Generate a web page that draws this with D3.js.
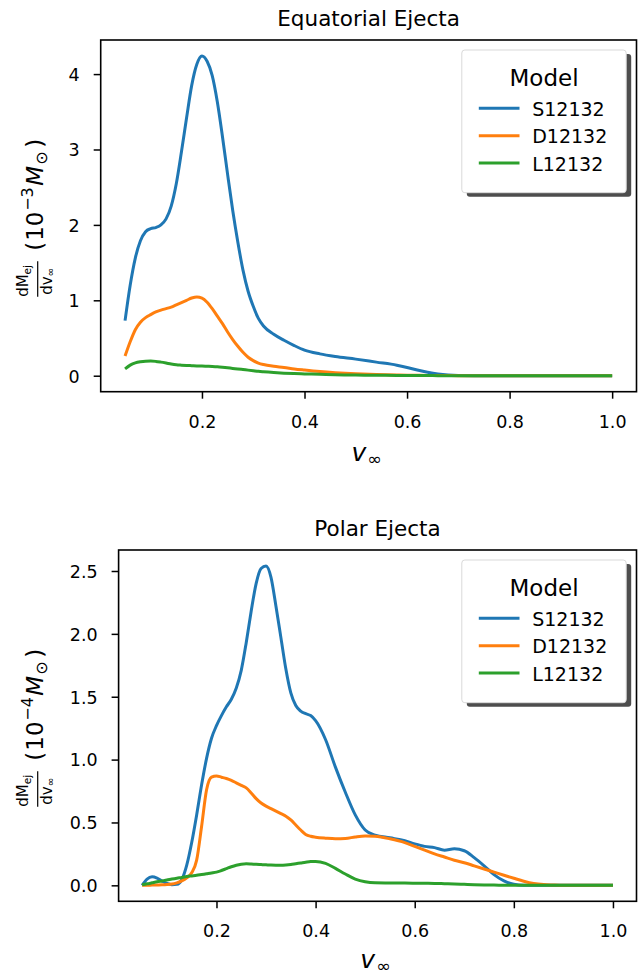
<!DOCTYPE html>
<html>
<head>
<meta charset="utf-8">
<script src="https://cdn.jsdelivr.net/npm/d3@7"></script>
<style>
  html, body { margin: 0; padding: 0; background: #fff; }
  svg { display: block; }
  text { font-family: "DejaVu Sans", sans-serif; fill: #000; }
</style>
</head>
<body>
<svg id="chart" width="644" height="975"></svg>
<script>
// ---------------- DATA ----------------
const seriesNames = ["S12132", "D12132", "L12132"];
const seriesColors = ["#1f77b4", "#ff7f0e", "#2ca02c"];

// Equatorial ejecta (units of 1e-3 Msun)
const equV = [0.05,0.06,0.07,0.08,0.09,0.10,0.11,0.12,0.13,0.14,0.15,0.16,0.17,0.18,0.19,0.20,0.21,0.22,0.23,0.24,0.25,0.26,0.27,0.28,0.29,0.30,0.31,0.32,0.34,0.36,0.38,0.40,0.43,0.46,0.50,0.54,0.58,0.60,0.62,0.64,0.66,0.68,0.70,0.75,0.80,0.90,1.00];
const equS = [0.73,1.20,1.56,1.79,1.91,1.95,1.965,2.00,2.08,2.25,2.55,2.97,3.42,3.85,4.13,4.24,4.17,3.98,3.63,3.17,2.67,2.19,1.77,1.40,1.12,0.92,0.76,0.66,0.55,0.47,0.40,0.34,0.29,0.255,0.22,0.18,0.14,0.11,0.075,0.045,0.022,0.008,0.002,0,0,0,0];
const equD = [0.26,0.45,0.61,0.71,0.77,0.81,0.845,0.87,0.89,0.91,0.94,0.97,1.00,1.03,1.045,1.03,0.975,0.89,0.79,0.69,0.58,0.48,0.39,0.31,0.245,0.20,0.168,0.148,0.125,0.11,0.09,0.075,0.055,0.04,0.025,0.015,0.009,0.007,0.005,0.004,0.003,0.002,0.001,0,0,0,0];
const equL = [0.09,0.14,0.17,0.185,0.193,0.195,0.19,0.18,0.168,0.155,0.145,0.14,0.136,0.133,0.13,0.128,0.125,0.122,0.118,0.112,0.105,0.097,0.09,0.082,0.074,0.066,0.058,0.052,0.042,0.034,0.028,0.024,0.018,0.013,0.009,0.006,0.004,0.003,0.002,0.002,0.001,0.001,0.001,0,0,0,0];

// Polar ejecta (units of 1e-4 Msun)
const polV = [0.05,0.06,0.07,0.08,0.09,0.10,0.11,0.12,0.13,0.14,0.15,0.16,0.17,0.18,0.19,0.20,0.21,0.22,0.23,0.24,0.25,0.26,0.27,0.28,0.29,0.30,0.31,0.32,0.33,0.34,0.35,0.36,0.37,0.38,0.39,0.40,0.42,0.44,0.46,0.48,0.50,0.52,0.55,0.58,0.60,0.62,0.64,0.66,0.68,0.70,0.72,0.74,0.76,0.78,0.80,0.82,0.84,0.86,0.88,0.90,0.95,1.00];
const polS = [0.0,0.05,0.068,0.058,0.035,0.015,0.005,0.008,0.045,0.16,0.34,0.56,0.80,1.01,1.17,1.27,1.35,1.42,1.48,1.57,1.71,1.93,2.18,2.40,2.52,2.54,2.45,2.22,1.97,1.72,1.53,1.43,1.385,1.365,1.35,1.31,1.16,0.94,0.74,0.56,0.44,0.40,0.378,0.355,0.33,0.31,0.30,0.28,0.29,0.275,0.22,0.155,0.085,0.035,0.008,0,0,0,0,0,0,0];
const polD = [0.0,0.0,0.002,0.003,0.004,0.006,0.01,0.02,0.035,0.06,0.10,0.20,0.47,0.76,0.86,0.87,0.86,0.85,0.835,0.815,0.795,0.775,0.735,0.69,0.655,0.63,0.61,0.59,0.57,0.55,0.52,0.48,0.44,0.405,0.39,0.383,0.375,0.37,0.372,0.385,0.393,0.39,0.37,0.34,0.31,0.28,0.25,0.225,0.20,0.18,0.155,0.13,0.105,0.08,0.056,0.033,0.015,0.006,0.003,0.001,0,0];
const polL = [0.005,0.012,0.02,0.028,0.035,0.042,0.05,0.057,0.063,0.07,0.075,0.08,0.086,0.092,0.098,0.105,0.118,0.133,0.148,0.16,0.168,0.172,0.17,0.167,0.165,0.163,0.161,0.16,0.16,0.162,0.166,0.172,0.178,0.184,0.189,0.19,0.175,0.135,0.09,0.05,0.028,0.02,0.019,0.018,0.017,0.016,0.015,0.013,0.011,0.008,0.005,0.003,0.002,0.001,0,0,0,0,0,0,0,0];

const xTicks = [0.2, 0.4, 0.6, 0.8, 1.0];
const equYTicks = [0, 1, 2, 3, 4];
const polYTicks = [0.0, 0.5, 1.0, 1.5, 2.0, 2.5];

const panels = [
  { title: "Equatorial Ejecta", v: equV, ys: [equS, equD, equL], yTicks: equYTicks, yFmt: d3.format("d"),
    exp: "−3", xlabOff: 69.5, box: { left: 100.7, right: 636.5, top: 40, bottom: 391.7 } },
  { title: "Polar Ejecta", v: polV, ys: [polS, polD, polL], yTicks: polYTicks, yFmt: d3.format(".1f"),
    exp: "−4", xlabOff: 67, box: { left: 118.6, right: 636.5, top: 550, bottom: 901.3 } }
];

// ---------------- DRAW ----------------
const svg = d3.select("#chart");
svg.append("rect").attr("width", 644).attr("height", 975).attr("fill", "#fff");

function padDomain(lo, hi) { const r = hi - lo; return [lo - 0.05 * r, hi + 0.05 * r]; }

panels.forEach(p => {
  const b = p.box;
  const xs = d3.scaleLinear().domain(padDomain(d3.min(p.v), d3.max(p.v))).range([b.left, b.right]);
  const allY = p.ys.flat();
  const ys = d3.scaleLinear().domain(padDomain(d3.min(allY), d3.max(allY))).range([b.bottom, b.top]);
  const g = svg.append("g");

  // lines
  const line = d3.line().x(d => xs(d[0])).y(d => ys(d[1])).curve(d3.curveMonotoneX);
  p.ys.forEach((arr, i) => {
    g.append("path")
      .datum(p.v.map((v, j) => [v, arr[j]]))
      .attr("d", line)
      .attr("fill", "none")
      .attr("stroke", seriesColors[i])
      .attr("stroke-width", 3)
      .attr("stroke-linejoin", "round")
      .attr("stroke-linecap", "butt");
  });

  // axes
  const xAxis = d3.axisBottom(xs).tickValues(xTicks).tickFormat(d3.format(".1f")).tickSize(7).tickPadding(0);
  const xg = g.append("g").attr("transform", `translate(0,${b.bottom})`).call(xAxis);
  xg.select(".domain").remove();
  xg.selectAll(".tick line").attr("stroke", "#000").attr("stroke-width", 1.5);
  xg.selectAll(".tick text").attr("font-size", 17.5).attr("font-family", "DejaVu Sans")
    .attr("fill", "#000").attr("dy", null).attr("y", 36);

  const yAxis = d3.axisLeft(ys).tickValues(p.yTicks).tickFormat(p.yFmt).tickSize(7).tickPadding(0);
  const yg = g.append("g").attr("transform", `translate(${b.left},0)`).call(yAxis);
  yg.select(".domain").remove();
  yg.selectAll(".tick line").attr("stroke", "#000").attr("stroke-width", 1.5);
  yg.selectAll(".tick text").attr("font-size", 17.5).attr("font-family", "DejaVu Sans")
    .attr("fill", "#000").attr("x", -21).attr("dy", "0.36em");

  // frame
  g.append("rect").attr("x", b.left).attr("y", b.top)
    .attr("width", b.right - b.left).attr("height", b.bottom - b.top)
    .attr("fill", "none").attr("stroke", "#000").attr("stroke-width", 1.6);

  // title
  g.append("text").attr("x", (b.left + b.right) / 2).attr("y", b.top - 14)
    .attr("text-anchor", "middle").attr("font-size", 21.5).text(p.title);

  // x label v_inf
  const xl = g.append("text").attr("x", (b.left + b.right) / 2 - 2).attr("y", b.bottom + p.xlabOff)
    .attr("text-anchor", "middle");
  xl.append("tspan").attr("font-size", 25).attr("font-style", "italic").text("v");
  xl.append("tspan").attr("font-size", 17.5).attr("dy", 4).attr("dx", 1).text("∞");

  // y label (rotated)
  const cy = (b.top + b.bottom) / 2;
  const yl = g.append("g").attr("transform", `translate(42.7,${cy}) rotate(-90)`);
  // fraction
  const num = yl.append("text").attr("x", -81).attr("y", -15);
  num.append("tspan").attr("font-size", 15).text("dM");
  num.append("tspan").attr("font-size", 10.5).attr("dy", 3).text("ej");
  yl.append("line").attr("x1", -81).attr("x2", -45.5).attr("y1", -5).attr("y2", -5)
    .attr("stroke", "#000").attr("stroke-width", 1.2);
  const den = yl.append("text").attr("x", -79).attr("y", 9);
  den.append("tspan").attr("font-size", 15).text("dv");
  den.append("tspan").attr("font-size", 10.5).attr("dy", 2.5).text("∞");
  // (10^-3 M_sun)
  yl.append("text").attr("x", -35).attr("y", 0).attr("font-size", 23).text("(");
  yl.append("text").attr("x", -25).attr("y", 0).attr("font-size", 23).text("10");
  yl.append("text").attr("x", 5).attr("y", -10).attr("font-size", 16).text(p.exp);
  yl.append("text").attr("x", 30).attr("y", 0).attr("font-size", 23).attr("font-style", "italic").text("M");
  yl.append("text").attr("x", 51).attr("y", 4).attr("font-size", 16).text("⊙");
  yl.append("text").attr("x", 68).attr("y", 0).attr("font-size", 23).text(")");

  // legend
  const lx = b.right - 10.3 - 164.4, ly = b.top + 10, lw = 164.4, lh = 142.7;
  const lg = g.append("g");
  lg.append("rect").attr("x", lx + 5).attr("y", ly + 4).attr("width", lw).attr("height", lh)
    .attr("rx", 3).attr("fill", "#4d4d4d");
  lg.append("rect").attr("x", lx).attr("y", ly).attr("width", lw).attr("height", lh)
    .attr("rx", 3).attr("fill", "#fff").attr("stroke", "#d9d9d9").attr("stroke-width", 1);
  lg.append("text").attr("x", lx + lw / 2).attr("y", ly + 36).attr("text-anchor", "middle")
    .attr("font-size", 23).text("Model");
  seriesNames.forEach((name, i) => {
    const yy = ly + 58.3 + i * 27.35;
    lg.append("line").attr("x1", lx + 17).attr("x2", lx + 57.7).attr("y1", yy).attr("y2", yy)
      .attr("stroke", seriesColors[i]).attr("stroke-width", 3);
    lg.append("text").attr("x", lx + 70.4).attr("y", yy + 7.5).attr("font-size", 19).text(name);
  });
});
</script>
</body>
</html>
